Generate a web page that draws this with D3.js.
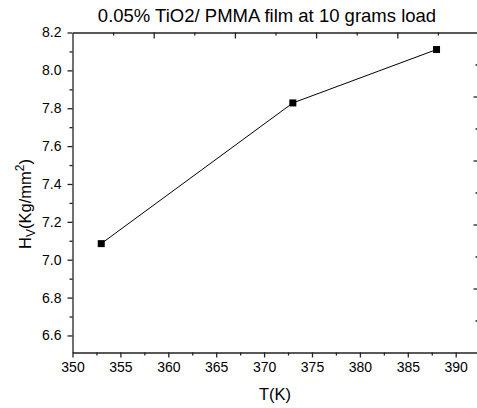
<!DOCTYPE html>
<html>
<head>
<meta charset="utf-8">
<script src="https://cdn.jsdelivr.net/npm/d3@7"></script>
<style>
  body { margin: 0; background: #fff; }
  text { font-family: Arial, "Liberation Sans", sans-serif; fill: #000; }
  .axis path, .axis line { stroke: #222; stroke-width: 1.3; }
</style>
</head>
<body>
<div id="chart"></div>
<script>
// Data
const temps = [353, 373, 388];
const hardness = [7.085, 7.828, 8.11];

const xTicks = [350, 355, 360, 365, 370, 375, 380, 385, 390];
const xMinor = [352.5, 357.5, 362.5, 367.5, 372.5, 377.5, 382.5, 387.5];
const yTicks = [6.6, 6.8, 7.0, 7.2, 7.4, 7.6, 7.8, 8.0, 8.2];
const yMinor = [6.7, 6.9, 7.1, 7.3, 7.5, 7.7, 7.9, 8.1];
// secondary (unlabelled) top and right axes
const topTicks = [1, 2, 3, 4];
const topMinor = [0.5, 1.5, 2.5, 3.5, 4.5];
const rightTicks = [1, 2, 3, 4];
const rightMinor = [0.5, 1.5, 2.5, 3.5, 4.5];

const title = "0.05% TiO2/ PMMA film at 10 grams load";

const margin = { top: 32.5, left: 72.5 };
const width = 406;
const height = 320;

const svg = d3.select("#chart")
  .append("svg")
  .attr("width", 477)
  .attr("height", 408);

const g = svg.append("g")
  .attr("transform", `translate(${margin.left},${margin.top})`);

const x = d3.scaleLinear().domain([350, 392.38]).range([0, width]);
const y = d3.scaleLinear().domain([6.51, 8.2]).range([height, 0]);
const xTop = d3.scaleLinear().domain([0, 5]).range([0, width]);
const yRight = d3.scaleLinear().domain([0, 5]).range([height, 0]);

// Bottom axis
g.append("g").attr("class", "axis")
  .attr("transform", `translate(0,${height})`)
  .call(d3.axisBottom(x).tickValues(xTicks).tickSize(5).tickSizeOuter(0).tickPadding(5).tickFormat(d3.format("d")))
  .call(a => a.selectAll("text").attr("font-size", 14));
g.append("g").attr("class", "axis")
  .attr("transform", `translate(0,${height})`)
  .call(d3.axisBottom(x).tickValues(xMinor).tickSize(3).tickFormat(""))
  .call(a => a.select(".domain").remove());

// Left axis
g.append("g").attr("class", "axis")
  .call(d3.axisLeft(y).tickValues(yTicks).tickSize(5).tickSizeOuter(0).tickPadding(6).tickFormat(d3.format(".1f")))
  .call(a => a.selectAll("text").attr("font-size", 14));
g.append("g").attr("class", "axis")
  .call(d3.axisLeft(y).tickValues(yMinor).tickSize(3).tickFormat(""))
  .call(a => a.select(".domain").remove());

// Top axis (ticks inward)
g.append("g").attr("class", "axis")
  .call(d3.axisBottom(xTop).tickValues(topTicks).tickSize(6).tickSizeOuter(0).tickFormat(""));
g.append("g").attr("class", "axis")
  .call(d3.axisBottom(xTop).tickValues(topMinor).tickSize(3).tickFormat(""))
  .call(a => a.select(".domain").remove());

// Right axis (ticks inward)
g.append("g").attr("class", "axis")
  .attr("transform", `translate(${width},0)`)
  .call(d3.axisLeft(yRight).tickValues(rightTicks).tickSize(5).tickSizeOuter(0).tickFormat(""));
g.append("g").attr("class", "axis")
  .attr("transform", `translate(${width},0)`)
  .call(d3.axisLeft(yRight).tickValues(rightMinor).tickSize(3).tickFormat(""))
  .call(a => a.select(".domain").remove());

// Line + markers
const points = temps.map((t, i) => [t, hardness[i]]);
g.append("path")
  .datum(points)
  .attr("fill", "none")
  .attr("stroke", "#000")
  .attr("stroke-width", 1)
  .attr("d", d3.line().x(d => x(d[0])).y(d => y(d[1])));

g.selectAll("rect.pt")
  .data(points)
  .enter().append("rect")
  .attr("class", "pt")
  .attr("x", d => x(d[0]) - 3.5)
  .attr("y", d => y(d[1]) - 3.5)
  .attr("width", 7)
  .attr("height", 7)
  .attr("fill", "#000");

// Title
svg.append("text")
  .attr("x", 267)
  .attr("y", 21.5)
  .attr("text-anchor", "middle")
  .attr("font-size", 18.5)
  .text(title);

// X label
svg.append("text")
  .attr("x", 275)
  .attr("y", 400)
  .attr("text-anchor", "middle")
  .attr("font-size", 16.5)
  .text("T(K)");

// Y label
const yl = svg.append("text")
  .attr("transform", "translate(31,204) rotate(-90)")
  .attr("text-anchor", "middle")
  .attr("font-size", 16.5);
yl.append("tspan").text("H");
yl.append("tspan").attr("font-size", 12).attr("dy", 4).text("V");
yl.append("tspan").attr("dy", -4).text("(Kg/mm");
yl.append("tspan").attr("font-size", 12).attr("dy", -7).text("2");
yl.append("tspan").attr("dy", 7).text(")");
</script>
</body>
</html>
